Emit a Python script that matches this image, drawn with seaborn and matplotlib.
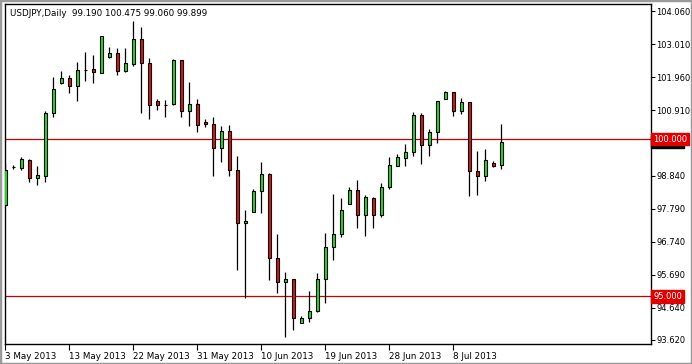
import numpy as np
import matplotlib
matplotlib.use("Agg")
import matplotlib.pyplot as plt
import matplotlib.patches as mpatches
import seaborn as sns

# ================= data (USDJPY daily) =================
SYMBOL_TITLE = "USDJPY,Daily  99.190 100.475 99.060 99.899"

opens = [97.916, 99.111, 99.080, 99.334, 98.752, 98.836, 100.826, 101.767, 101.926, 101.672,
         102.191, 102.212, 102.106, 102.593, 102.720, 102.148, 102.381, 103.164, 102.402, 101.217,
         101.090, 101.101, 102.508, 100.900, 101.111, 100.540, 100.466, 99.704, 100.254, 99.006,
         97.323, 97.693, 98.339, 98.879, 96.212, 95.450, 95.545, 94.148, 94.318, 94.529,
         95.545, 96.561, 96.984, 97.937, 98.381, 97.598, 98.127, 97.598, 98.466, 99.154,
         99.408, 99.577, 100.762, 99.799, 100.212, 101.260, 101.492, 100.900, 101.164, 98.974,
         98.815, 99.228, 99.190]
highs = [99.228, 99.175, 99.418, 99.376, 99.133, 100.879, 101.979, 102.170, 102.032, 102.434,
         102.752, 102.667, 103.281, 102.910, 102.879, 102.889, 103.736, 103.545, 102.572, 101.270,
         101.238, 102.530, 102.520, 101.810, 101.270, 100.635, 100.688, 100.402, 100.445, 99.450,
         97.757, 98.413, 99.260, 98.910, 96.984, 95.767, 95.560, 94.392, 95.164, 95.736,
         97.006, 98.254, 98.127, 98.466, 98.699, 98.212, 98.170, 98.593, 99.418, 99.524,
         99.842, 100.868, 100.826, 100.318, 101.200, 101.535, 101.500, 101.302, 101.170, 99.630,
         99.683, 99.291, 100.475]
lows = [97.884, 99.037, 99.016, 98.625, 98.551, 98.625, 100.709, 101.746, 101.471, 101.217,
        101.831, 101.789, 102.085, 102.572, 102.043, 102.117, 102.328, 100.815, 100.635, 100.921,
        100.709, 101.080, 100.688, 100.424, 100.212, 100.371, 98.836, 99.281, 98.836, 95.852,
        94.942, 97.693, 97.662, 95.535, 95.101, 93.725, 93.947, 94.148, 94.180, 94.498,
        94.783, 96.159, 96.879, 97.937, 97.175, 96.932, 97.175, 97.535, 98.424, 99.133,
        99.133, 99.471, 99.207, 99.471, 99.863, 101.260, 100.741, 100.794, 98.201, 98.233,
        98.656, 99.122, 99.060]
closes = [99.016, 99.111, 99.355, 98.752, 98.847, 100.826, 101.577, 101.926, 101.672, 102.180,
          102.191, 102.117, 103.260, 102.720, 102.148, 102.402, 103.164, 102.402, 101.080, 101.069,
          101.090, 102.508, 100.900, 101.111, 100.434, 100.466, 99.704, 100.244, 99.006, 97.323,
          97.387, 98.339, 98.879, 96.212, 95.450, 95.545, 94.307, 94.307, 94.529, 95.545,
          96.561, 96.984, 97.746, 98.381, 97.598, 98.148, 97.598, 98.476, 99.164, 99.418,
          99.577, 100.762, 99.799, 100.212, 101.196, 101.492, 100.900, 101.164, 98.974, 98.815,
          99.334, 99.154, 99.899]

date_labels = ["3 May 2013", "13 May 2013", "22 May 2013", "31 May 2013",
               "10 Jun 2013", "19 Jun 2013", "28 Jun 2013", "8 Jul 2013"]
price_ticks = [104.060, 103.010, 101.960, 100.910, 98.840, 97.790, 96.740, 95.690, 94.640, 93.620]
level_lines = [100.0, 95.0]
last_price = 99.899

# ================= style =================
UP = "#22E022"
DOWN = "#DD1515"
LEVEL = "#C80000"
W, H = 692, 364
FS = 6.0

sns.set_style("white")
plt.rcParams["font.family"] = ["DejaVu Sans"]

fig = plt.figure(figsize=(W / 100, H / 100), dpi=100)
ax = fig.add_axes([5 / W, 1 - 344 / H, 646 / W, 340 / H])

o = np.array(opens)
c = np.array(closes)
x = np.arange(len(o))
up = c >= o
lo = np.minimum(o, c)
hi = np.maximum(o, c)

# wicks
ax.vlines(x, lows, highs, color="black", lw=0.9, zorder=2)
# bodies
ax.bar(x[up], (hi - lo)[up], bottom=lo[up], width=0.45,
       color=UP, edgecolor="black", linewidth=0.8, zorder=3)
ax.bar(x[~up], (hi - lo)[~up], bottom=lo[~up], width=0.45,
       color=DOWN, edgecolor="black", linewidth=0.8, zorder=3)

# support / resistance levels
for lv in level_lines:
    ax.axhline(lv, color=LEVEL, lw=0.9, zorder=1)

ax.set_xlim(-0.0625, 80.69)
ax.set_ylim(93.492, 104.286)

# axes look like the terminal
for s in ax.spines.values():
    s.set_color("black")
    s.set_linewidth(1)
ax.yaxis.tick_right()
ax.set_yticks(price_ticks)
ax.set_yticklabels([f"{v:.3f}" for v in price_ticks])
ax.set_xticks(np.arange(len(date_labels)) * 8)
ax.set_xticklabels(date_labels)
for lab in ax.get_xticklabels():
    lab.set_horizontalalignment("left")
ax.tick_params(axis="x", direction="out", length=4, width=0.8, pad=1.5,
               labelsize=FS + 0.3, colors="black", bottom=True)
ax.tick_params(axis="y", direction="out", length=3, width=0.8, pad=1,
               labelsize=FS, colors="black", right=True, left=False)

ax.text(0.007, 0.985, SYMBOL_TITLE, transform=ax.transAxes, ha="left", va="top",
        fontsize=FS + 0.3, color="black")

# price labels on the right margin
def price_box(val, face, z):
    ax.annotate(f"{val:.3f}", xy=(1.0, val), xycoords=("axes fraction", "data"),
                xytext=(1.5, 0), textcoords="offset points", ha="left", va="center",
                fontsize=FS, color="white", zorder=z, annotation_clip=False,
                bbox=dict(boxstyle="square,pad=0.2", fc=face, ec=face))

price_box(last_price, "black", 5)
for lv in level_lines:
    price_box(lv, "#E00000", 6)

# window border
fig.patches.append(mpatches.Rectangle((0, 0), 1, 1, transform=fig.transFigure,
                                      fill=False, edgecolor="#9A9A9A", lw=2.5))

fig.savefig("out.png", dpi=100)
